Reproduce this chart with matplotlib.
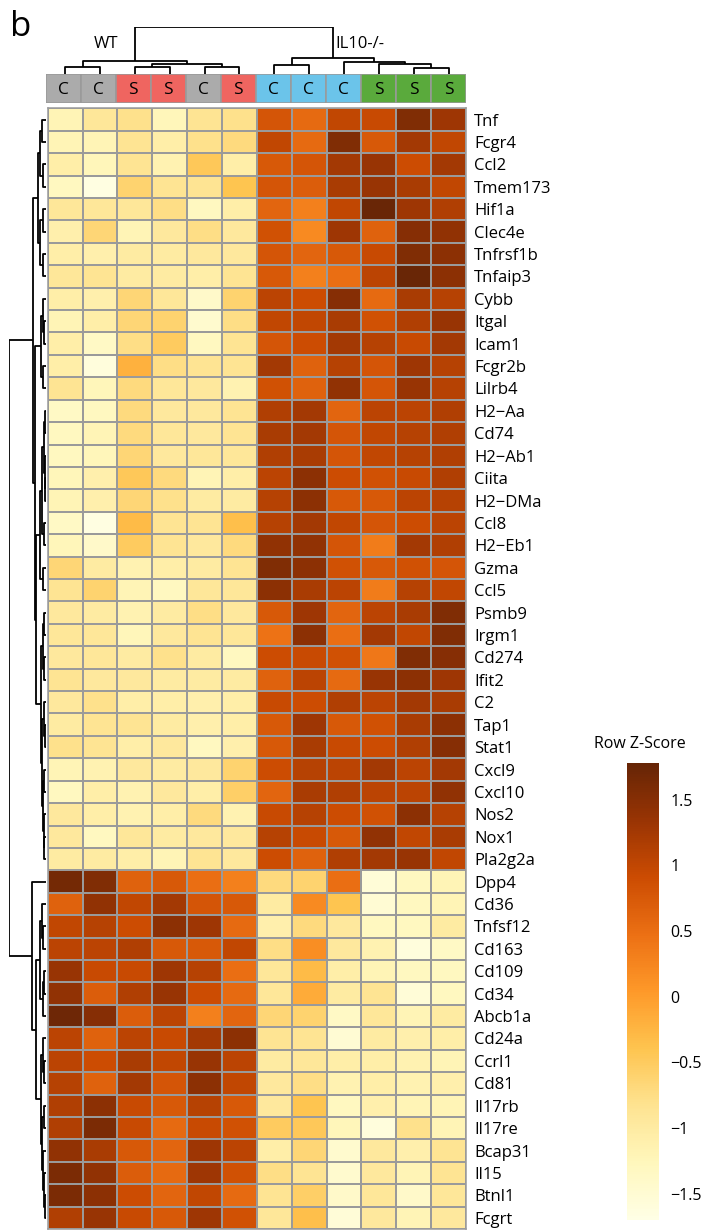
import numpy as np
import matplotlib
matplotlib.use("Agg")
import matplotlib.pyplot as plt
from matplotlib.patches import Rectangle

plt.rcParams['font.family'] = ['Open Sans', 'DejaVu Sans']

W, H = 710, 1232

genes = ["Tnf", "Fcgr4", "Ccl2", "Tmem173", "Hif1a", "Clec4e", "Tnfrsf1b", "Tnfaip3",
         "Cybb", "Itgal", "Icam1", "Fcgr2b", "Lilrb4", "H2−Aa", "Cd74", "H2−Ab1",
         "Ciita", "H2−DMa", "Ccl8", "H2−Eb1", "Gzma", "Ccl5", "Psmb9", "Irgm1",
         "Cd274", "Ifit2", "C2", "Tap1", "Stat1", "Cxcl9", "Cxcl10", "Nos2", "Nox1",
         "Pla2g2a", "Dpp4", "Cd36", "Tnfsf12", "Cd163", "Cd109", "Cd34", "Abcb1a",
         "Cd24a", "Ccrl1", "Cd81", "Il17rb", "Il17re", "Bcap31", "Il15", "Btnl1", "Fcgrt"]

treatment = ["C", "C", "S", "S", "C", "S", "C", "C", "C", "S", "S", "S"]
genotype = ["WT"] * 6 + ["IL10-/-"] * 6
group_colors = {("WT", "C"): "#ababab", ("WT", "S"): "#ef6560",
                ("IL10-/-", "C"): "#6bc4ea", ("IL10-/-", "S"): "#5aaa3c"}

# row z-scores, genes x samples (column order as plotted)
zscores = np.array([
    [-1.20, -0.90, -0.80, -1.25, -0.85, -0.80, 0.80, 0.55, 1.00, 0.95, 1.55, 1.30],
    [-1.20, -1.20, -0.85, -1.05, -0.80, -0.70, 1.00, 0.55, 1.55, 0.75, 1.25, 1.00],
    [-1.05, -1.25, -0.85, -1.15, -0.45, -1.05, 0.75, 0.80, 1.25, 1.35, 0.90, 1.25],
    [-1.30, -1.65, -0.60, -0.85, -0.85, -0.40, 0.80, 0.70, 1.20, 1.35, 1.20, 1.00],
    [-0.90, -0.90, -0.90, -0.75, -1.30, -1.05, 0.60, 0.30, 1.00, 1.75, 1.30, 1.15],
    [-1.10, -0.65, -1.20, -0.95, -0.75, -0.95, 0.85, 0.20, 1.30, 0.65, 1.50, 1.40],
    [-1.05, -1.10, -1.00, -1.00, -0.95, -0.95, 0.80, 0.60, 0.75, 0.95, 1.55, 1.45],
    [-0.90, -0.85, -1.00, -1.00, -1.05, -0.85, 0.75, 0.30, 0.50, 1.05, 1.75, 1.45],
    [-1.05, -1.10, -0.65, -0.90, -1.40, -0.60, 1.05, 0.90, 1.50, 0.55, 1.20, 1.10],
    [-1.20, -1.05, -0.65, -0.60, -1.45, -0.75, 1.00, 1.00, 1.20, 0.85, 1.15, 1.35],
    [-1.05, -1.35, -0.75, -0.50, -1.30, -0.85, 0.80, 0.90, 1.25, 1.10, 0.95, 1.25],
    [-1.05, -1.60, -0.20, -0.75, -0.85, -0.85, 1.25, 0.65, 1.10, 0.80, 1.30, 1.10],
    [-0.85, -1.25, -0.70, -0.90, -0.95, -1.15, 0.85, 0.65, 1.40, 0.80, 1.35, 1.10],
    [-1.35, -1.30, -0.70, -0.95, -0.95, -0.85, 1.15, 1.25, 0.60, 1.05, 1.05, 1.15],
    [-1.30, -1.20, -0.70, -0.90, -0.95, -0.85, 1.20, 1.25, 0.80, 1.00, 1.10, 1.15],
    [-1.30, -1.25, -0.65, -0.95, -0.90, -0.90, 1.15, 1.20, 0.80, 1.00, 1.10, 1.15],
    [-1.25, -1.10, -0.45, -0.70, -1.20, -1.05, 1.05, 1.45, 0.90, 0.85, 0.95, 1.15],
    [-1.20, -1.10, -0.65, -0.80, -1.00, -1.00, 1.10, 1.45, 0.75, 0.75, 1.05, 1.10],
    [-1.35, -1.65, -0.30, -0.85, -0.85, -0.35, 1.10, 1.25, 1.00, 0.80, 0.90, 1.05],
    [-1.25, -1.40, -0.50, -0.85, -0.95, -0.70, 1.40, 1.40, 0.80, 0.35, 1.25, 1.15],
    [-0.65, -1.00, -1.15, -1.05, -1.00, -0.85, 1.55, 1.45, 0.85, 0.75, 0.85, 0.80],
    [-0.85, -0.60, -1.20, -1.30, -0.90, -0.90, 1.45, 1.20, 1.05, 0.35, 1.10, 1.00],
    [-0.95, -1.00, -1.15, -1.00, -0.75, -0.95, 0.75, 1.30, 0.60, 1.05, 1.20, 1.55],
    [-0.90, -0.90, -1.25, -0.95, -0.85, -0.90, 0.45, 1.45, 0.50, 1.25, 1.00, 1.55],
    [-0.95, -0.90, -1.00, -0.80, -1.00, -1.30, 0.90, 0.95, 0.85, 0.40, 1.55, 1.50],
    [-0.85, -0.95, -0.95, -1.00, -1.00, -1.00, 0.65, 1.05, 0.55, 1.35, 1.45, 1.30],
    [-0.95, -0.80, -1.05, -1.05, -1.10, -1.05, 0.95, 0.90, 1.15, 1.05, 1.25, 1.20],
    [-1.00, -0.85, -0.85, -1.00, -1.10, -1.05, 0.75, 1.30, 0.75, 0.85, 1.20, 1.45],
    [-0.80, -0.85, -1.05, -0.95, -1.30, -1.10, 0.75, 1.20, 0.95, 0.90, 1.15, 1.50],
    [-1.20, -1.15, -0.95, -1.00, -0.95, -0.60, 0.90, 1.10, 1.05, 1.25, 1.05, 1.25],
    [-1.30, -1.05, -1.15, -0.95, -1.05, -0.55, 0.60, 1.20, 1.15, 1.05, 1.05, 1.40],
    [-0.95, -1.05, -1.15, -1.05, -0.70, -1.15, 0.95, 1.10, 0.90, 0.85, 1.45, 1.10],
    [-0.95, -1.30, -0.90, -1.00, -0.95, -0.95, 1.10, 0.95, 0.75, 1.40, 1.00, 1.20],
    [-1.00, -1.00, -1.05, -1.20, -0.85, -0.95, 0.90, 0.65, 1.15, 1.25, 1.35, 1.00],
    [1.65, 1.55, 0.65, 0.75, 0.50, 0.30, -0.70, -0.60, 0.50, -1.55, -1.30, -1.20],
    [0.65, 1.40, 1.00, 1.25, 0.80, 0.75, -1.00, 0.20, -0.40, -1.50, -1.30, -1.20],
    [1.00, 1.10, 0.90, 1.45, 1.30, 0.55, -1.10, -0.70, -0.95, -1.30, -1.30, -1.00],
    [1.05, 1.05, 1.15, 0.75, 0.75, 1.00, -0.75, 0.15, -0.95, -1.15, -1.60, -1.35],
    [1.35, 0.95, 0.95, 1.30, 1.10, 0.50, -0.90, -0.30, -1.05, -1.20, -1.30, -1.30],
    [1.40, 0.70, 1.15, 1.35, 0.90, 0.55, -0.90, -0.15, -1.00, -0.85, -1.55, -1.30],
    [1.70, 1.50, 0.70, 1.05, 0.30, 0.60, -0.65, -0.60, -1.35, -0.90, -1.20, -1.00],
    [1.05, 0.65, 1.05, 0.95, 1.25, 1.45, -0.85, -0.85, -1.50, -1.00, -1.10, -1.05],
    [1.05, 0.90, 1.20, 1.00, 1.35, 1.05, -1.00, -0.90, -1.05, -1.05, -1.15, -1.20],
    [1.10, 0.65, 1.25, 0.80, 1.45, 1.00, -0.95, -0.75, -1.15, -1.05, -1.15, -1.10],
    [1.15, 1.45, 0.95, 0.75, 1.10, 0.75, -0.95, -0.40, -1.30, -1.10, -1.20, -1.20],
    [1.15, 1.60, 0.95, 0.55, 0.95, 0.85, -0.50, -0.45, -1.25, -1.60, -0.80, -1.20],
    [1.40, 1.20, 0.75, 0.60, 1.30, 1.05, -1.05, -0.65, -1.45, -0.95, -1.10, -0.85],
    [1.60, 1.40, 0.70, 0.55, 1.30, 0.85, -0.75, -0.85, -1.45, -0.95, -1.20, -0.85],
    [1.60, 1.45, 0.90, 0.60, 1.00, 0.55, -0.85, -0.55, -1.40, -0.90, -1.40, -0.90],
    [1.15, 1.35, 0.95, 0.75, 1.30, 0.85, -0.90, -0.35, -1.55, -0.95, -1.20, -0.95],
])

# dendrograms as nested (merge height, left, right); leaves are plotted indices
col_tree = (150, (41, (23, 0, 1), (31, (23, 2, 3), (23, 4, 5))),
            (50, (28, 6, 7), (38, 8, (33, 9, (18, 10, 11)))))

row_top = (0.34,
           (0.22, (0.15, (0.10, 0, 1), (0.07, 2, 3)), (0.17, (0.08, 4, 5), (0.09, 6, 7))),
           (0.30,
            (0.14, (0.09, 8, (0.06, 9, 10)), (0.08, 11, 12)),
            (0.27,
             (0.15, (0.10, (0.06, (0.04, 13, 14), (0.035, 15, (0.03, 16, 17))), (0.05, 18, 19)),
              (0.09, 20, 21)),
             (0.13, (0.08, (0.05, 22, 23), (0.06, 24, 25)),
              (0.10, (0.06, 26, (0.04, 27, 28)),
               (0.07, (0.045, 29, 30), (0.06, 31, (0.05, 32, 33))))))))
row_bottom = (0.38, 34,
              (0.26,
               (0.16, (0.10, 35, (0.07, 36, 37)), (0.09, (0.06, 38, 39), 40)),
               (0.14, (0.08, 41, (0.05, 42, 43)),
                (0.10, (0.06, 44, 45), (0.07, 46, (0.05, 47, (0.04, 48, 49)))))))
row_tree = (1.0, row_top, row_bottom)

zmin, zmax = -1.70, 1.78
cbar_ticks = [1.5, 1, 0.5, 0, -0.5, -1, -1.5]
cbar_labels = ["1.5", "1", "0.5", "0", "−0.5", "−1", "−1.5"]


def px_axes(fig, x0, y0, x1, y1):
    return fig.add_axes([x0 / W, 1 - y1 / H, (x1 - x0) / W, (y1 - y0) / H])


def draw_tree(ax, node, horizontal=False):
    # returns (leaf position, height) of the node after drawing its branches
    if isinstance(node, int):
        return node + 0.5, 0.0
    h, left, right = node
    pl, hl = draw_tree(ax, left, horizontal)
    pr, hr = draw_tree(ax, right, horizontal)
    pos = [pl, pl, pr, pr]
    hts = [hl, h, h, hr]
    if horizontal:
        ax.plot(hts, pos, color="black", lw=1.3, solid_capstyle="butt")
    else:
        ax.plot(pos, hts, color="black", lw=1.3, solid_capstyle="butt")
    return (pl + pr) / 2, h


fig = plt.figure(figsize=(W / 100, H / 100), dpi=100)

# heatmap
ax = px_axes(fig, 47.7, 108.3, 466, 1229)
mesh = ax.pcolormesh(zscores, cmap="YlOrBr", vmin=zmin, vmax=zmax,
                     edgecolors="#9a9a9a", linewidth=1.1)
ax.set_xlim(0, 12)
ax.set_ylim(len(genes), 0)
ax.set_xticks([])
ax.yaxis.tick_right()
ax.set_yticks(np.arange(len(genes)) + 0.5)
ax.set_yticklabels(genes, fontsize=12)
ax.tick_params(axis="y", length=0, pad=6)
for s in ax.spines.values():
    s.set_color("#9a9a9a")
    s.set_linewidth(1.1)

# sample annotation bar
ax_col = px_axes(fig, 45.7, 74, 466, 103.3)
for i, (g, t) in enumerate(zip(genotype, treatment)):
    ax_col.add_patch(Rectangle((i, 0), 1, 1, facecolor=group_colors[(g, t)],
                               edgecolor="#9a9a9a", lw=1.1))
    ax_col.text(i + 0.5, 0.47, t, ha="center", va="center", fontsize=12.5)
ax_col.set_xlim(0, 12)
ax_col.set_ylim(0, 1)
ax_col.axis("off")

# column dendrogram
ax_ctree = px_axes(fig, 47.7, 27, 466, 74)
draw_tree(ax_ctree, col_tree)
ax_ctree.set_xlim(0, 12)
ax_ctree.set_ylim(0, 151)
ax_ctree.axis("off")
fig.text(106 / W, 1 - 44 / H, "WT", ha="center", va="center", fontsize=12)
fig.text(335 / W, 1 - 44 / H, "IL10-/-", ha="left", va="center", fontsize=12)

# row dendrogram
ax_rtree = px_axes(fig, 8.6, 108.3, 46, 1229)
draw_tree(ax_rtree, row_tree, horizontal=True)
ax_rtree.set_xlim(1.01, 0)
ax_rtree.set_ylim(len(genes), 0)
ax_rtree.axis("off")

# colour key
cax = px_axes(fig, 627, 763, 659, 1220)
cb = fig.colorbar(mesh, cax=cax)
cb.set_ticks(cbar_ticks)
cb.set_ticklabels(cbar_labels)
cb.outline.set_visible(False)
cax.tick_params(length=0, pad=8, labelsize=11.5)
fig.text(640 / W, 1 - 744 / H, "Row Z-Score", ha="center", va="center", fontsize=11.5)

fig.text(10 / W, 1 - 36 / H, "b", fontsize=25, ha="left", va="baseline")

plt.savefig("out.png", dpi=100)
plt.close()
